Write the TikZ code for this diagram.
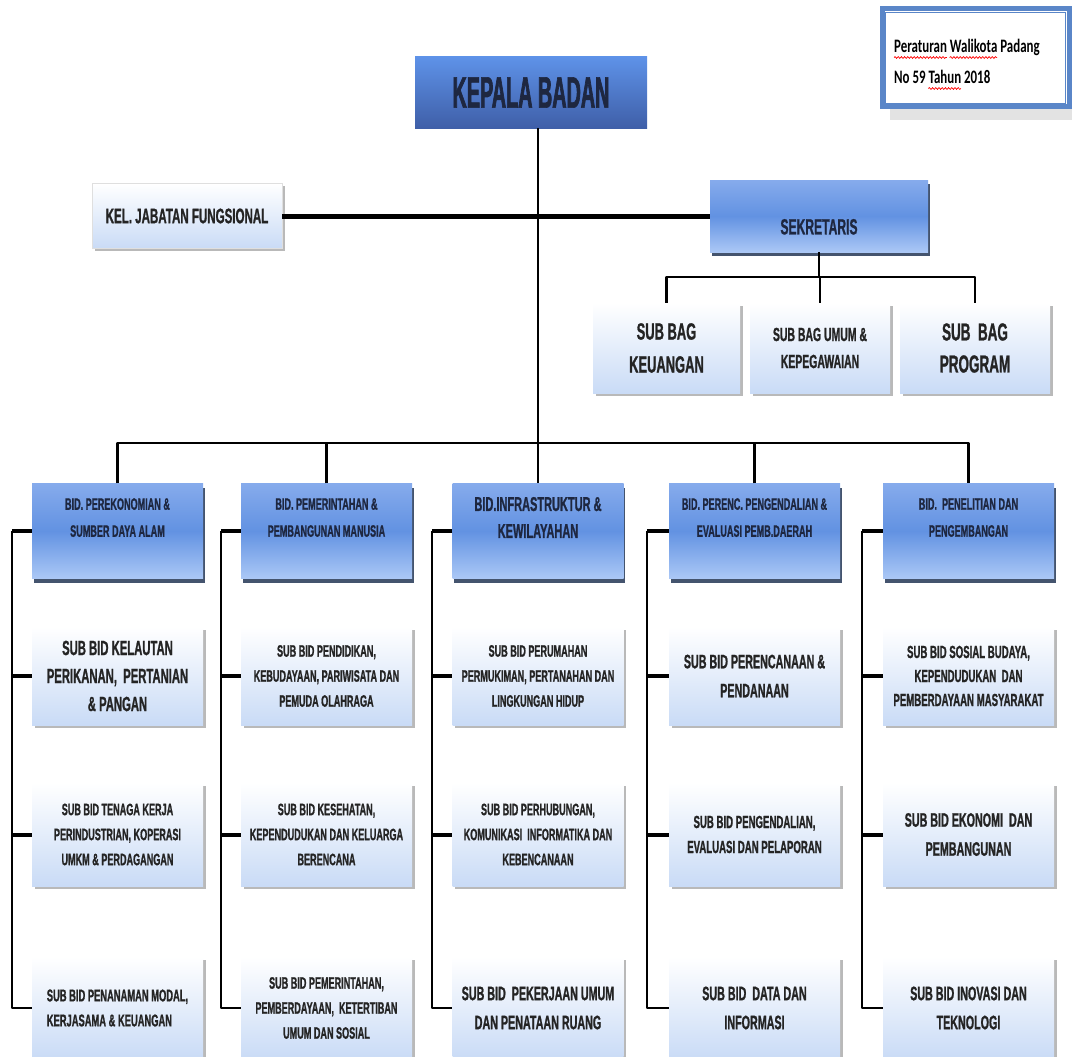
\documentclass[tikz,border=0pt]{standalone}
\usepackage{fontspec}
\usetikzlibrary{shadows,decorations.pathmorphing}
\newfontfamily\condfont{Liberation Sans}[FakeStretch=0.55, BoldFeatures={FakeBold=1}]
\newfontfamily\tightfont{Liberation Sans}[FakeStretch=0.45, BoldFeatures={FakeBold=1.5}]
\newfontfamily\notefont{Carlito}[FakeStretch=0.68]
\definecolor{headtop}{HTML}{5E92E8}
\definecolor{headbot}{HTML}{3F5FA8}
\definecolor{bidtop}{HTML}{86ABEC}
\definecolor{bidmid}{HTML}{6292E2}
\definecolor{bidbot}{HTML}{ABC8F6}
\definecolor{bidshade}{HTML}{44546E}
\definecolor{subbot}{HTML}{C9DBF6}
\definecolor{notebl}{HTML}{5A86C8}
\definecolor{ink}{HTML}{242424}
\definecolor{bidink}{HTML}{1E2740}
\newcommand{\linew}{2.5pt}
\newcommand{\tickw}{4pt}
\newcommand{\fsmall}{\condfont\bfseries\fontsize{16.5}{25}\selectfont}
\newcommand{\fbig}{\condfont\bfseries\fontsize{19.5}{29}\selectfont}
\newcommand{\fnote}{\notefont\bfseries\fontsize{19}{31}\selectfont}

\begin{document}
\begin{tikzpicture}[x=1pt, y=-1pt]
    \tikzset{
        link/.style = {line width=\linew, line join=round},
        tick/.style = {line width=\tickw},
        heavy/.style = {line width=5pt},
        squiggle/.style = {red, line width=0.7pt, decorate, decoration={snake, amplitude=0.9pt, segment length=3.2pt}},
        headbox/.style = {minimum width=232pt, minimum height=71pt, inner sep=0pt,
            top color=headtop, bottom color=headbot, text=bidink,
            font=\tightfont\bfseries\fontsize{44}{48}\selectfont},
        bidbox/.style = {minimum width=171pt, minimum height=95pt, inner sep=0pt, align=center,
            top color=bidtop, bottom color=bidbot, middle color=bidmid, text=bidink,
            drop shadow={shadow xshift=1.5pt, shadow yshift=-4pt, fill=bidshade, opacity=1},
            font=\condfont\bfseries\fontsize{16.5}{27}\selectfont},
        subbox/.style = {minimum width=171pt, minimum height=98pt, inner sep=0pt, align=center,
            top color=white, bottom color=subbot, text=ink,
            drop shadow={shadow xshift=2.5pt, shadow yshift=-2.5pt, fill=gray!55, opacity=1},
            font=\fsmall},
        notetext/.style = {inner sep=0pt, anchor=base west, text=black, font=\fnote},
        rowtwo/.style = {minimum height=103pt},
        rowthree/.style = {minimum height=102pt},
        big/.style = {font=\fbig}
    }
    \path[use as bounding box, clip] (0,0) rectangle (1072,1057);
    \fill[white] (0,0) rectangle (1072,1057);

    % top
    \node[headbox] (kepala) at (531,92.5) {KEPALA BADAN};
    \node[draw=notebl, line width=5pt, fill=white, minimum width=187pt, minimum height=98pt,
        drop shadow={shadow xshift=8pt, shadow yshift=-13pt, fill=gray!22, opacity=1}] (perwako) at (975.5,58) {};
    \draw[notebl, line width=1.5pt] ([shift={(6pt,-6pt)}]perwako.north west) rectangle ([shift={(-6pt,6pt)}]perwako.south east);
    \node[notetext] (perline1) at (894,53) {Peraturan Walikota Padang};
    \node[notetext] (perline2) at (894,84) {No 59 Tahun 2018};
    % spelling marks
    \fnote
    \pgfmathsetmacro{\wpa}{width("Peraturan")}
    \pgfmathsetmacro{\wpb}{width("Peraturan Walikota")}
    \pgfmathsetmacro{\wwa}{width("Walikota")}
    \pgfmathsetmacro{\wta}{width("No 59 Tahun")}
    \pgfmathsetmacro{\wtb}{width("Tahun")}
    \draw[squiggle] ([yshift=-4.5pt]perline1.base west) -- ++(\wpa,0);
    \draw[squiggle] ([yshift=-4.5pt,xshift=\wpb pt-\wwa pt]perline1.base west) -- ++(\wwa,0);
    \draw[squiggle] ([yshift=-4.5pt,xshift=\wta pt-\wtb pt]perline2.base west) -- ++(\wtb,0);

    \node[subbox, minimum width=190pt, minimum height=65pt, draw=gray!25,
        font=\condfont\bfseries\fontsize{21}{25}\selectfont] (kel) at (187,216) {KEL. JABATAN FUNGSIONAL};
    \node[bidbox, minimum width=218pt, minimum height=72pt,
        font=\condfont\bfseries\fontsize{22}{37}\selectfont] (sek) at (819,216) {\mbox{}\\ SEKRETARIS};

    % sekretariat
    \node[subbox, minimum width=147pt, minimum height=90pt,
        font=\condfont\bfseries\fontsize{23.5}{33}\selectfont] (keu) at (666.5,348) {SUB BAG\\ KEUANGAN};
    \node[subbox, minimum width=140pt, minimum height=90pt,
        font=\condfont\bfseries\fontsize{19}{27}\selectfont] (umum) at (820,348) {SUB BAG UMUM \&\\ KEPEGAWAIAN};
    \node[subbox, minimum width=150pt, minimum height=90pt,
        font=\condfont\bfseries\fontsize{24.5}{32}\selectfont] (prog) at (975,348) {SUB~~BAG\\ PROGRAM};

    % bidang
    \node[bidbox] (b1) at (117.5,531) {BID. PEREKONOMIAN \&\\ SUMBER DAYA ALAM\\ \mbox{}};
    \node[bidbox] (b2) at (326.5,531) {BID. PEMERINTAHAN \&\\ PEMBANGUNAN MANUSIA\\ \mbox{}};
    \node[bidbox, font=\condfont\bfseries\fontsize{20}{27}\selectfont] (b3) at (538,531) {BID.INFRASTRUKTUR \&\\ KEWILAYAHAN\\ \mbox{}};
    \node[bidbox] (b4) at (754.5,531) {BID. PERENC. PENGENDALIAN \&\\ EVALUASI PEMB.DAERAH\\ \mbox{}};
    \node[bidbox] (b5) at (968.5,531) {BID.~~PENELITIAN DAN\\ PENGEMBANGAN\\ \mbox{}};

    % sub bidang
    \node[subbox, font=\condfont\bfseries\fontsize{20.5}{28}\selectfont] (s11) at (117.5,676) {SUB BID KELAUTAN\\ PERIKANAN,~~PERTANIAN\\ \& PANGAN};
    \node[subbox, rowtwo] (s12) at (117.5,834.5) {SUB BID TENAGA KERJA\\ PERINDUSTRIAN, KOPERASI\\ UMKM \& PERDAGANGAN};
    \node[subbox, rowthree, align=left, font=\condfont\bfseries\fontsize{17}{25}\selectfont] (s13) at (117.5,1008) {SUB BID PENANAMAN MODAL,\\ KERJASAMA \& KEUANGAN};

    \node[subbox] (s21) at (326.5,676) {SUB BID PENDIDIKAN,\\ KEBUDAYAAN, PARIWISATA DAN\\ PEMUDA OLAHRAGA};
    \node[subbox, rowtwo] (s22) at (326.5,834.5) {SUB BID KESEHATAN,\\ KEPENDUDUKAN DAN KELUARGA\\ BERENCANA};
    \node[subbox, rowthree] (s23) at (326.5,1008) {SUB BID PEMERINTAHAN,\\ PEMBERDAYAAN,~~KETERTIBAN\\ UMUM DAN SOSIAL};

    \node[subbox] (s31) at (538,676) {SUB BID PERUMAHAN\\ PERMUKIMAN, PERTANAHAN DAN\\ LINGKUNGAN HIDUP};
    \node[subbox, rowtwo] (s32) at (538,834.5) {SUB BID PERHUBUNGAN,\\ KOMUNIKASI~~INFORMATIKA DAN\\ KEBENCANAAN};
    \node[subbox, rowthree, big] (s33) at (538,1008) {SUB BID~~PEKERJAAN UMUM\\ DAN PENATAAN RUANG};

    \node[subbox, big] (s41) at (754.5,676) {SUB BID PERENCANAAN \&\\ PENDANAAN};
    \node[subbox, rowtwo, font=\condfont\bfseries\fontsize{17.5}{25}\selectfont] (s42) at (754.5,834.5) {SUB BID PENGENDALIAN,\\ EVALUASI DAN PELAPORAN};
    \node[subbox, rowthree, big] (s43) at (754.5,1008) {SUB BID~~DATA DAN\\ INFORMASI};

    \node[subbox, font=\condfont\bfseries\fontsize{17.5}{24}\selectfont] (s51) at (968.5,676) {SUB BID SOSIAL BUDAYA,\\ KEPENDUDUKAN~~DAN\\ PEMBERDAYAAN MASYARAKAT};
    \node[subbox, rowtwo, big] (s52) at (968.5,834.5) {SUB BID EKONOMI~~DAN\\ PEMBANGUNAN};
    \node[subbox, rowthree, big] (s53) at (968.5,1008) {SUB BID INOVASI DAN\\ TEKNOLOGI};

    % connectors
    \draw[link] (kepala.south -| b3.north) -- (b3.north);
    \coordinate (bus) at (538,443);
    \draw[link] (b1.north) |- (bus) -| (b5.north);
    \draw[link] (b2.north) -- (b2.north |- bus);
    \draw[link] (b4.north) -- (b4.north |- bus);
    \draw[heavy] (kel.east) -- (sek.west);
    \coordinate (sekbus) at (819,277);
    \draw[link] (sek.south) -- (sekbus);
    \draw[link] (keu.north) |- (sekbus) -| (prog.north);
    \draw[link] (umum.north) -- (umum.north |- sekbus);
    \foreach \c/\rx in {1/12,2/221,3/432,4/647,5/862}{
        \coordinate (r\c) at (\rx,0);
        \draw[tick] (b\c.west) -- (b\c.west -| r\c);
        \draw[link] (b\c.west -| r\c) -- (r\c |- s\c3.west) -- (s\c3.west);
        \draw[tick] (r\c |- s\c1.west) -- (s\c1.west);
        \draw[tick] (r\c |- s\c2.west) -- (s\c2.west);
    }
\end{tikzpicture}
\end{document}
